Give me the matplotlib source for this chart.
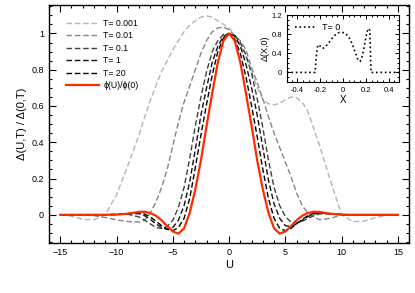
import matplotlib
matplotlib.use('Agg')
import matplotlib.pyplot as plt
from matplotlib.ticker import MultipleLocator, FuncFormatter

plt.rcParams['font.family'] = ['Liberation Sans', 'DejaVu Sans']

# valores
U = [-15, -14, -13, -12, -11, -10, -9, -8, -7.5, -7, -6.5, -6, -5.5, -5, -4.5, -4,
     -3.5, -3, -2.5, -2, -1.5, -1, -0.5, 0, 0.5, 1, 1.5, 2, 2.5, 3, 3.5, 4, 4.5,
     5, 5.5, 6, 6.5, 7, 7.5, 8, 9, 10, 11, 12, 13, 14, 15]

d_t0001 = [0, -0.008, -0.025, -0.028, 0.0, 0.11, 0.27, 0.44, 0.54, 0.63, 0.71, 0.79, 0.85,
           0.91, 0.96, 1.01, 1.045, 1.07, 1.09, 1.097, 1.09, 1.07, 1.05, 1.03, 0.99, 0.94,
           0.87, 0.79, 0.70, 0.635, 0.612, 0.606, 0.615, 0.635, 0.65, 0.645, 0.62, 0.57,
           0.48, 0.39, 0.19, 0.0, -0.038, -0.035, -0.015, -0.004, 0]
d_t001 = [0, 0, 0, -0.005, -0.015, -0.028, -0.037, -0.04, -0.03, 0.01, 0.07, 0.15, 0.25,
          0.38, 0.51, 0.62, 0.71, 0.80, 0.89, 0.96, 1.01, 1.03, 1.035, 1.02, 0.99, 0.96,
          0.91, 0.81, 0.73, 0.64, 0.54, 0.45, 0.37, 0.29, 0.21, 0.12, 0.05, 0.01, -0.01,
          -0.027, -0.02, 0.0, 0, 0, 0, 0, 0]
d_t01 = [0, 0, 0, 0, 0, 0.002, 0.003, -0.012, -0.03, -0.05, -0.07, -0.075, -0.065, -0.03,
         0.04, 0.15, 0.31, 0.49, 0.65, 0.79, 0.9, 0.96, 0.995, 0.998, 0.99, 0.95, 0.88,
         0.78, 0.64, 0.48, 0.30, 0.15, 0.05, -0.01, -0.04, -0.045, -0.035, -0.02, -0.005,
         0.005, 0.005, 0.001, 0, 0, 0, 0, 0]
d_t1 = [0, 0, 0, 0, 0, 0.002, 0.006, 0.006, -0.005, -0.025, -0.05, -0.07, -0.08, -0.07,
        -0.03, 0.05, 0.18, 0.36, 0.55, 0.70, 0.84, 0.93, 0.985, 1.0, 0.985, 0.93, 0.83,
        0.70, 0.55, 0.37, 0.19, 0.06, -0.02, -0.06, -0.065, -0.05, -0.03, -0.01, 0.004,
        0.01, 0.006, 0.001, 0, 0, 0, 0, 0]
d_t20 = [0, 0, 0, 0, 0, 0.002, 0.007, 0.011, 0.004, -0.012, -0.035, -0.06, -0.08, -0.088,
         -0.07, -0.02, 0.09, 0.26, 0.44, 0.61, 0.77, 0.9, 0.975, 1.0, 0.97, 0.89, 0.76,
         0.60, 0.43, 0.25, 0.09, -0.02, -0.075, -0.088, -0.075, -0.05, -0.025, -0.005,
         0.008, 0.012, 0.006, 0.001, 0, 0, 0, 0, 0]
phi = [0, 0, 0, 0, 0, 0.001, 0.006, 0.016, 0.017, 0.01, -0.005, -0.03, -0.062, -0.092,
       -0.104, -0.075, 0.01, 0.14, 0.30, 0.49, 0.67, 0.84, 0.96, 1.0, 0.96, 0.84, 0.67,
       0.49, 0.30, 0.14, 0.01, -0.075, -0.104, -0.092, -0.062, -0.03, -0.005, 0.01, 0.017,
       0.016, 0.006, 0.001, 0, 0, 0, 0, 0]

X = [-0.49, -0.245, -0.235, -0.225, -0.215, -0.2, -0.18, -0.16, -0.13, -0.1, -0.07, -0.04,
     -0.01, 0.02, 0.05, 0.08, 0.11, 0.13, 0.15, 0.17, 0.19, 0.21, 0.225, 0.235, 0.245, 0.49]
d_x0 = [0, 0, 0.3, 0.52, 0.58, 0.55, 0.5, 0.52, 0.6, 0.7, 0.78, 0.83, 0.84, 0.82, 0.74,
        0.6, 0.4, 0.27, 0.23, 0.35, 0.6, 0.85, 0.92, 0.88, 0.0, 0.0]

fig = plt.figure(figsize=(4.15, 2.93), dpi=100)
ax = fig.add_axes([0.118, 0.171, 0.868, 0.812])

ax.plot(U, d_t0001, '--', color='#b5b5b5', lw=1.0, dashes=(4, 2), label='T= 0.001')
ax.plot(U, d_t001, '--', color='#858585', lw=1.0, dashes=(4, 2), label='T= 0.01')
ax.plot(U, d_t01, '--', color='#404040', lw=1.0, dashes=(4, 2), label='T= 0.1')
ax.plot(U, d_t1, '--', color='#101010', lw=1.0, dashes=(4, 2), label='T= 1')
ax.plot(U, d_t20, '--', color='#000000', lw=1.0, dashes=(4, 2), label='T= 20')
ax.plot(U, phi, '-', color='#ff2a00', lw=1.6, label='ϕ(U)/ϕ(0)')

ax.set_xlim(-16, 16)
ax.set_ylim(-0.155, 1.157)
ax.xaxis.set_major_locator(MultipleLocator(5))
ax.xaxis.set_minor_locator(MultipleLocator(1))
ax.yaxis.set_major_locator(MultipleLocator(0.2))
ax.yaxis.set_minor_locator(MultipleLocator(0.05))
ax.yaxis.set_major_formatter(FuncFormatter(lambda v, p: '%g' % round(v, 2)))
ax.tick_params(which='both', direction='in', top=True, right=True, labelsize=6.5, width=0.8)
ax.tick_params(which='major', length=5)
ax.tick_params(which='minor', length=2.5)
for s in ax.spines.values():
    s.set_linewidth(1.0)
ax.set_xlabel('U', fontsize=8, labelpad=2)
ax.set_ylabel('Δ(U,T) / Δ(0,T)', fontsize=8, labelpad=3)
ax.legend(loc='upper left', frameon=False, fontsize=6.3, handlelength=3.8,
          handletextpad=0.5, labelspacing=0.4, bbox_to_anchor=(0.025, 0.975))

ins = fig.add_axes([0.6916, 0.7201, 0.2698, 0.2287])
ins.plot(X, d_x0, ':', color='black', lw=1.2, label='T= 0')
ins.set_xlim(-0.49, 0.49)
ins.set_ylim(-0.2, 1.2)
ins.xaxis.set_major_locator(MultipleLocator(0.2))
ins.xaxis.set_minor_locator(MultipleLocator(0.05))
ins.yaxis.set_major_locator(MultipleLocator(0.4))
ins.yaxis.set_minor_locator(MultipleLocator(0.1))
ins.xaxis.set_major_formatter(FuncFormatter(lambda v, p: '%g' % round(v, 2)))
ins.yaxis.set_major_formatter(FuncFormatter(lambda v, p: '%g' % round(v, 2)))
ins.tick_params(which='both', direction='in', top=True, right=True, labelsize=5.5, width=0.7)
ins.tick_params(which='major', length=3)
ins.tick_params(which='minor', length=1.5)
ins.set_xlabel('X', fontsize=7, labelpad=1)
ins.set_ylabel('Δ(X,0)', fontsize=6.5, labelpad=1)
ins.legend(loc='upper left', frameon=False, fontsize=6.5, handlelength=2.2)

fig.savefig('out.png', dpi=100)
